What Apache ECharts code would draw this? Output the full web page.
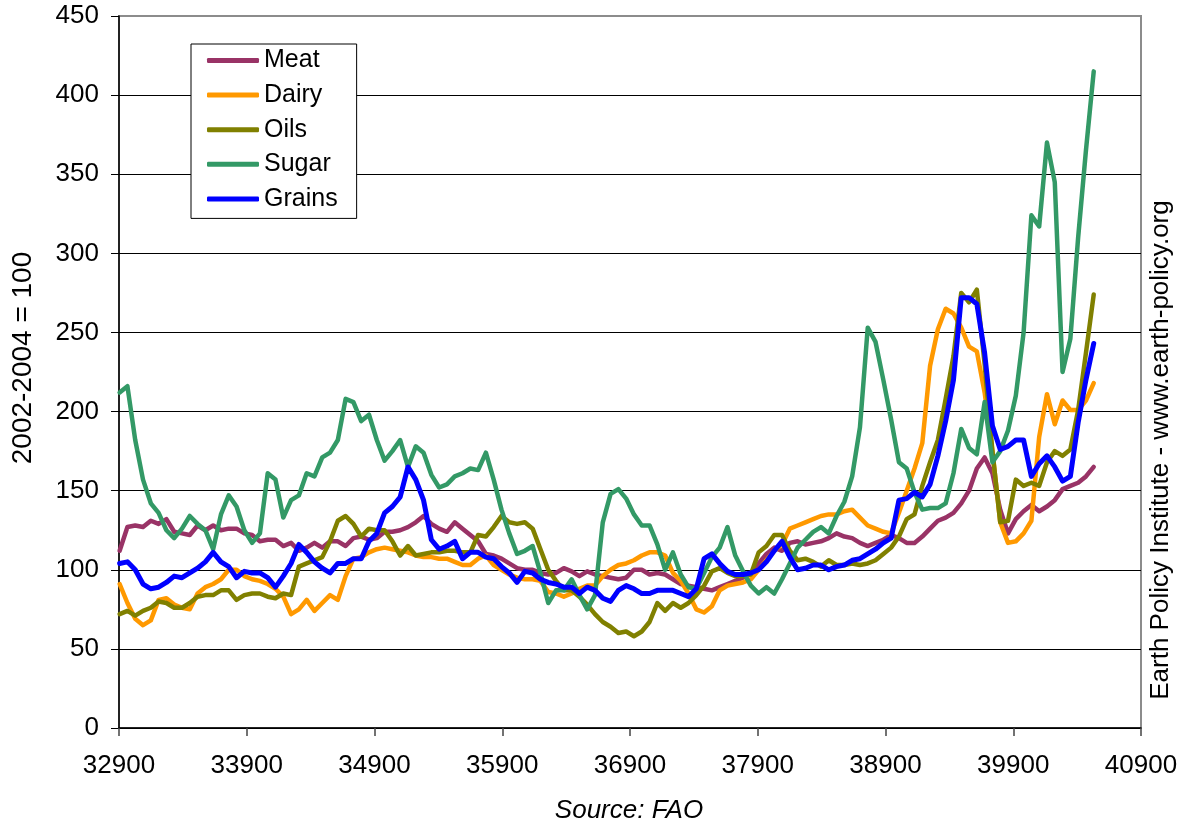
<!DOCTYPE html>
<html>
<head>
<meta charset="utf-8">
<script src="https://cdn.jsdelivr.net/npm/echarts@6/dist/echarts.min.js"></script>
<style>
html,body{margin:0;padding:0;background:#fff;}
#chart{width:1186px;height:828px;}
</style>
</head>
<body>
<div id="chart"></div>
<script>
// Excel date serials on the x axis (bimonthly samples)
const X0 = 32900;
const dates = Array.from({length: 126}, (_, i) => 32905 + 61 * i);
const xTicks = [32900, 33900, 34900, 35900, 36900, 37900, 38900, 39900, 40900];

const seriesNames = ['Meat', 'Dairy', 'Oils', 'Sugar', 'Grains'];

const meat = [112,127,128,127,131,129,132,124,123,122,128,125,128,125,126,126,123,122,118,119,119,115,117,112,114,117,114,118,
  118,115,120,121,119,120,124,124,125,127,130,134,129,126,124,130,126,122,118,110,109,107,104,101,100,100,98,
  97,98,101,99,96,99,97,96,95,94,95,100,100,97,98,97,94,91,90,89,88,87,89,91,93,95,98,
  104,110,114,112,117,118,116,117,118,120,123,121,120,117,115,117,119,122,
  120,117,117,121,126,131,133,136,142,150,164,171,161,138,123,132,137,141,137,140,144,151,153,155,159,165];

const dairy = [91,79,69,65,68,81,82,78,76,75,85,89,91,94,100,100,96,94,93,91,88,83,72,75,81,74,79,84,
  81,96,107,108,111,113,114,113,112,111,109,108,108,107,107,105,103,103,107,109,103,100,97,95,94,94,93,
  86,85,83,85,88,90,90,96,100,103,104,106,109,111,111,109,98,93,85,75,73,77,87,90,91,92,94,
  100,106,112,116,126,128,130,132,134,135,135,137,138,133,128,126,124,123,
  136,150,164,180,229,252,265,262,253,241,238,212,175,130,117,118,123,131,184,211,192,207,201,201,207,218];

const oils = [72,74,71,74,76,80,79,76,76,79,83,84,84,87,87,81,84,85,85,83,82,85,84,102,104,106,108,118,
  131,134,129,121,126,125,125,118,109,115,109,110,111,111,112,112,111,111,122,121,127,134,130,129,130,126,113,
  100,93,87,87,83,78,72,67,64,60,61,58,61,67,79,74,79,76,79,84,90,99,101,98,96,96,97,
  111,115,122,122,112,106,107,105,102,106,103,103,104,103,104,106,110,114,
  121,132,135,153,168,182,208,235,275,269,277,230,175,130,131,157,153,155,153,168,175,172,176,201,237,274];

const sugar = [212,216,182,157,142,136,125,120,126,134,129,125,113,135,147,140,125,117,123,161,157,133,144,147,161,159,171,174,
  182,208,206,194,198,182,169,175,182,165,178,174,160,152,154,159,161,164,163,174,157,138,123,110,112,115,98,
  79,87,87,94,84,75,84,130,148,151,145,135,128,128,116,100,111,97,89,88,98,108,114,127,109,99,90,
  85,89,85,94,104,114,119,124,127,123,134,143,159,190,253,244,220,195,
  168,164,149,138,139,139,142,161,189,177,173,206,168,175,188,210,250,324,317,370,345,225,246,310,365,415];

const grains = [104,105,100,91,88,89,92,96,95,98,101,105,111,105,102,95,99,98,98,95,89,96,104,116,111,105,101,98,
  104,104,107,107,118,123,136,140,146,165,157,144,119,113,115,118,107,111,111,108,107,102,98,92,99,98,94,
  92,91,89,89,85,89,87,82,80,87,90,88,85,85,87,87,87,85,83,88,107,110,104,99,97,97,98,
  100,105,112,118,108,100,101,103,103,100,102,103,106,107,110,113,117,120,
  144,145,149,146,154,172,194,220,272,272,268,237,191,176,178,182,182,159,167,172,165,156,159,193,220,243];

const colors = ['#993366', '#FF9900', '#808000', '#339966', '#0000FF'];
const values = [meat, dairy, oils, sugar, grains];
const FONT = '"Liberation Sans", Arial, Helvetica, sans-serif';

const chart = echarts.init(document.getElementById('chart'), null, {renderer: 'canvas'});

const series = seriesNames.map((name, k) => ({
  name: name,
  type: 'line',
  showSymbol: false,
  symbol: 'none',
  smooth: false,
  z: 2 + k,
  lineStyle: {color: colors[k], width: k === 4 ? 5 : 4.5, cap: 'round', join: 'round'},
  itemStyle: {color: colors[k]},
  data: dates.map((d, i) => [d - X0, values[k][i]])
}));

const option = {
  animation: false,
  backgroundColor: '#fff',
  textStyle: {fontFamily: FONT},
  grid: {left: 119, right: 45, top: 16, bottom: 100, show: true, borderColor: '#8c8c8c', borderWidth: 2, backgroundColor: '#fff'},
  xAxis: {
    type: 'value', min: 0, max: xTicks[xTicks.length - 1] - X0, interval: 1000,
    axisLine: {show: true, onZero: false, lineStyle: {color: '#000', width: 1.5}},
    axisTick: {show: true, length: 8, lineStyle: {color: '#444', width: 1.5}},
    axisLabel: {formatter: v => String(v + X0), fontSize: 26, color: '#000', margin: 25, fontFamily: FONT, showMaxLabel: true, showMinLabel: true},
    splitLine: {show: false}
  },
  yAxis: {
    type: 'value', min: 0, max: 450, interval: 50,
    axisLine: {show: true, lineStyle: {color: '#000', width: 1.5}},
    axisTick: {show: true, length: 8, lineStyle: {color: '#000', width: 1}},
    axisLabel: {fontSize: 26, color: '#000', margin: 20, fontFamily: FONT},
    splitLine: {show: true, showMaxLine: false, lineStyle: {color: '#000', width: 1}}
  },
  legend: {
    orient: 'vertical',
    left: 191, top: 44,
    backgroundColor: '#fff',
    borderColor: '#000', borderWidth: 1,
    padding: [4, 19, 7, 16],
    itemGap: 9.6,
    itemWidth: 52, itemHeight: 5,
    icon: 'roundRect',
    data: seriesNames,
    textStyle: {fontSize: 25, color: '#000', fontFamily: FONT, lineHeight: 25}
  },
  graphic: [
    {type: 'text', x: 23, y: 358, rotation: Math.PI / 2,
     style: {text: '2002-2004 = 100', font: '28px ' + FONT, fill: '#000', textAlign: 'center', textVerticalAlign: 'middle'}},
    {type: 'text', x: 1161, y: 450, rotation: Math.PI / 2,
     style: {text: 'Earth Policy Institute - www.earth-policy.org', font: '26px ' + FONT, fill: '#000', textAlign: 'center', textVerticalAlign: 'middle'}},
    {type: 'text', x: 629, y: 811,
     style: {text: 'Source: FAO', font: 'italic 26px ' + FONT, fill: '#000', textAlign: 'center', textVerticalAlign: 'middle'}}
  ],
  series: series
};

chart.setOption(option);
</script>
</body>
</html>
